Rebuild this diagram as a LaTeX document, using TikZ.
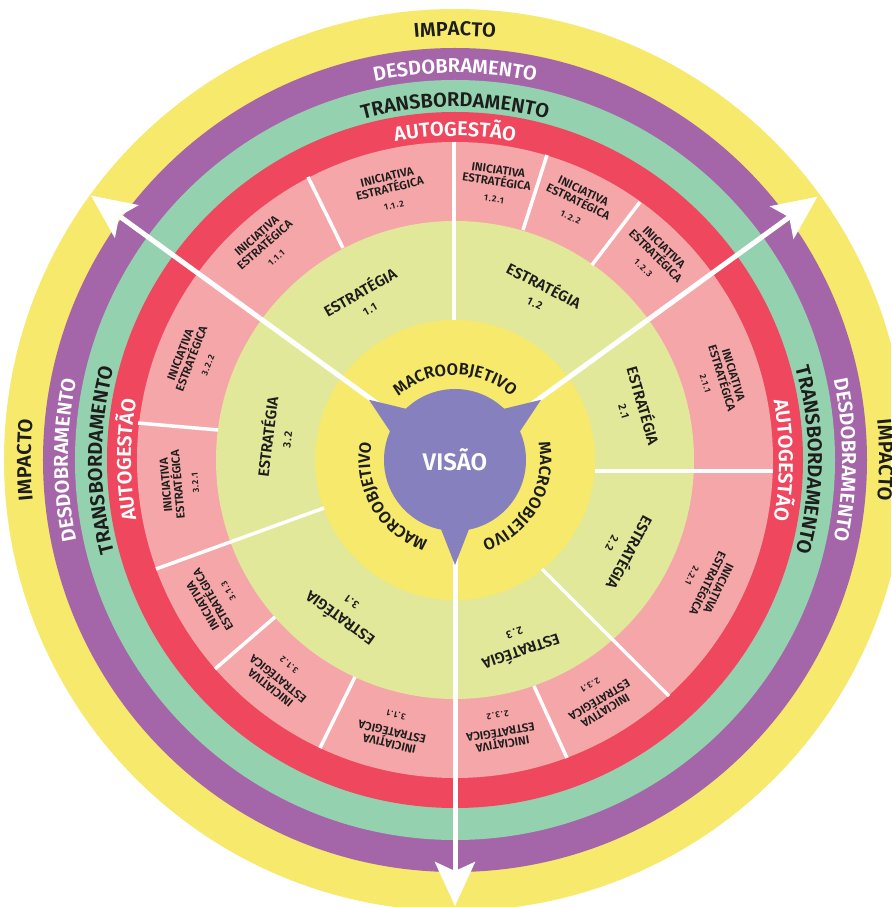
\documentclass[tikz,border=0pt]{standalone}
\usepackage{fontspec}
\setmainfont{Fira Sans}[BoldFont={Fira Sans SemiBold}]
\usetikzlibrary{arrows.meta,decorations.text}

\definecolor{amarelo}{HTML}{F6E96B}
\definecolor{roxo}{HTML}{A466A9}
\definecolor{verde}{HTML}{94D1AF}
\definecolor{vermelho}{HTML}{EF475E}
\definecolor{rosa}{HTML}{F5A6A9}
\definecolor{verdeclaro}{HTML}{E2E899}
\definecolor{lilas}{HTML}{8680BE}
\definecolor{tinta}{HTML}{1D1D1B}

\tikzset{
  divisa/.style={white, line width=3.5pt},
  seta/.style={white, line width=5pt, -{Stealth[length=44pt,width=40pt,inset=9pt]}},
  iniciativa/.style={align=center, text=tinta, font=\bfseries\fontsize{11.7}{12}\selectfont},
  estrategia/.style={align=center, text=tinta, font=\bfseries\fontsize{15.2}{18}\selectfont},
}

% numero espacado
\newcommand{\numero}[2]{{\fontsize{#1}{#1}\selectfont\addfontfeature{LetterSpace=12}#2}}

% texto curvo: raio, angulo central, cor, tamanho, texto
\newcommand{\textoanel}[5]{%
  \path[decorate, decoration={text along path, text align=center,
      text={|\bfseries\fontsize{#4}{#4}\selectfont\color{#3}|#5}}]
    (#2+70:#1pt) arc[start angle=#2+70, end angle=#2-70, radius=#1pt];
}

\begin{document}
\begin{tikzpicture}[x=1pt, y=1pt]
    \useasboundingbox (-455,-447) rectangle (436,460);
    \clip (-455,-447) rectangle (436,460);
    \coordinate (O) at (0,0);

    % aneis, de fora para dentro
    \fill[amarelo] (O) circle[radius=451pt];
    \fill[roxo] (O) circle[radius=412pt];
    \fill[verde] (O) circle[radius=380pt];
    \fill[vermelho] (O) circle[radius=348pt];
    \fill[rosa] (O) circle[radius=318pt];
    \fill[verdeclaro] (O) circle[radius=239pt];
    \fill[amarelo] (O) circle[radius=140pt];

    % nomes dos aneis (topo, esquerda, direita)
    \foreach \ang in {90,180,0} {
        \textoanel{424}{\ang}{tinta}{20}{IMPACTO}
        \textoanel{387}{\ang}{white}{20}{DESDOBRAMENTO}
        \textoanel{353}{\ang}{tinta}{20}{TRANSBORDAMENTO}
        \textoanel{324}{\ang}{white}{20}{AUTOGESTÃO}
    }

    % divisas entre estrategias e entre iniciativas
    \foreach \xa/\ya/\xb/\yb in {-1/140/-1/318, 140/-11/318/-11, 87/-109/214/-236, -131/-48/-299/-109,
            -147/283/-112/212, 92/305/68/230, 185/258/137/195, 79/-226/112/-298,
            -317/37/-237/30, -180/-157/-240/-209, -100/-217/-135/-288}
        \draw[divisa] (\xa,\ya) -- (\xb,\yb);

    % setas brancas
    \coordinate (ponta1) at (144:450);
    \coordinate (ponta2) at (36:448);
    \coordinate (ponta3) at (270:446);
    \foreach \p in {ponta1,ponta2,ponta3}
        \draw[seta] (O) -- (\p);

    % macroobjetivos
    \foreach \ang in {90,210,-30} {
        \textoanel{85}{\ang}{tinta}{16.5}{MACROOBJETIVO}
    }

    % visao com tres pontas
    \foreach \ang in {145,35,270}
        \fill[lilas] (\ang:105) -- (\ang+14:66) -- (\ang-14:66) -- cycle;
    \node[circle, fill=lilas, minimum size=142pt, inner sep=0pt, text=white,
        font=\bfseries\fontsize{24}{24}\selectfont] (visao) at (O) {VISÃO};

    % estrategias
    \foreach \ang/\r/\num/\nome in {119.5/185/1.1/e11, 63/188/1.2/e12, 16/188/2.1/e21, -28/190/2.2/e22,
            -71/195/2.3/e23, 234/188/3.1/e31, 173/181/3.2/e32}
        \node[estrategia, rotate=\ang-90] (\nome) at (\ang:\r) {ESTRATÉGIA\\\numero{11}{\num}};

    % iniciativas estrategicas
    \foreach \ang/\r/\num/\nome in {131.5/285/1.1.1/i111, 103.5/277/1.1.2/i112, 81.5/279/1.2.1/i121,
            64.5/284/1.2.2/i122, 45.5/284/1.2.3/i123, 17/277/2.1.1/i211, -26/279/2.2.1/i221,
            -59/278/2.3.1/i231, -80.5/274/2.3.2/i232, 257/277/3.1.1/i311, 231/279/3.1.2/i312,
            210/277/3.1.3/i313, 185/276/3.2.1/i321, 159/280/3.2.2/i322}
        \node[iniciativa, rotate=\ang-90] (\nome) at (\ang:\r) {INICIATIVA\\ESTRATÉGICA\\[4.5pt]\numero{8.8}{\num}};
\end{tikzpicture}
\end{document}
